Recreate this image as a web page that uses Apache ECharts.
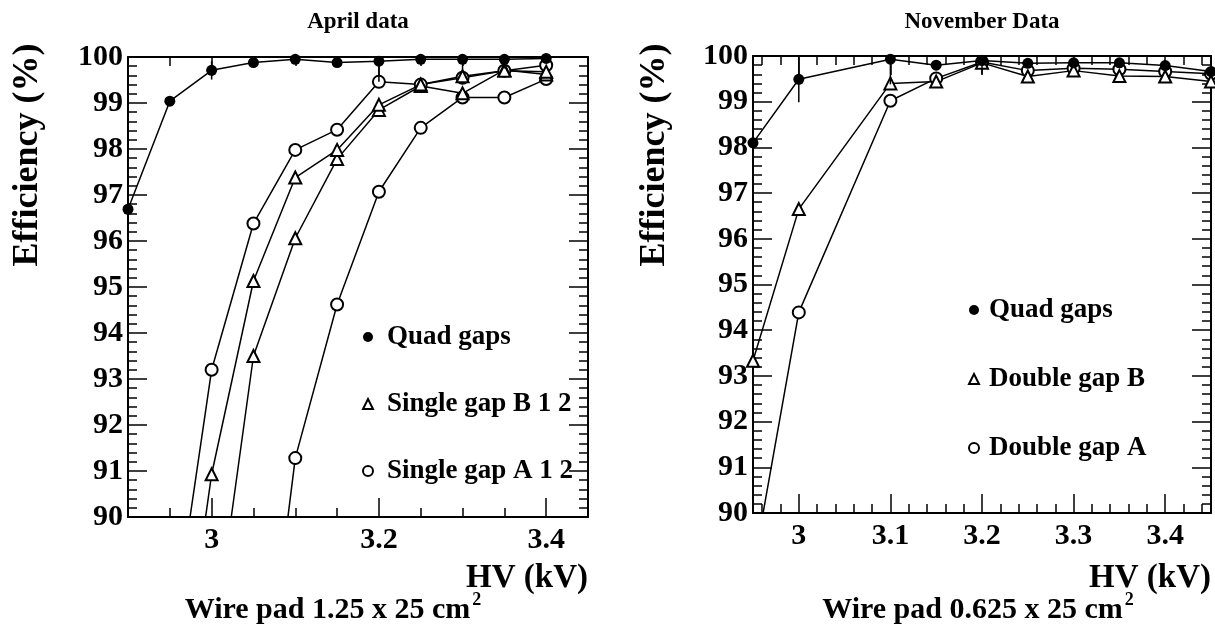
<!DOCTYPE html>
<html><head><meta charset="utf-8">
<script src="https://cdn.jsdelivr.net/npm/echarts@6/dist/echarts.min.js"></script>
<style>html,body{margin:0;padding:0;background:#fff}#c{width:1215px;height:633px}</style>
</head><body><div id="c"></div>
<script>
const FONT = '"Liberation Serif", "Times New Roman", serif';

// ---------- Left panel: April data ----------
const hvAprilQuad  = [2.9, 2.95, 3.0, 3.05, 3.1, 3.15, 3.2, 3.25, 3.3, 3.35, 3.4];
const effAprilQuad = [96.69, 99.04, 99.71, 99.88, 99.95, 99.88, 99.91, 99.95, 99.95, 99.95, 99.97];
const errAprilQuad = [0.05, 0.05, 0.2, 0.05, 0.08, 0.05, 0.45, 0.1, 0.25, 0.2, 0.05];
const hvAprilB1  = [2.95, 3.0, 3.05, 3.1, 3.15, 3.2, 3.25, 3.3, 3.35, 3.4];
const effAprilB1 = [84.5, 90.93, 95.13, 97.38, 97.98, 98.96, 99.40, 99.58, 99.70, 99.68];
const hvAprilB2  = [3.0, 3.05, 3.1, 3.15, 3.2, 3.25, 3.3, 3.35, 3.4];
const effAprilB2 = [86.9, 93.5, 96.06, 97.78, 98.85, 99.37, 99.21, 99.72, 99.62];
const hvAprilA1  = [2.95, 3.0, 3.05, 3.1, 3.15, 3.2, 3.25, 3.3, 3.35, 3.4];
const effAprilA1 = [87.0, 93.2, 96.38, 97.98, 98.42, 99.46, 99.40, 99.55, 99.70, 99.82];
const hvAprilA2  = [3.05, 3.1, 3.15, 3.2, 3.25, 3.3, 3.35, 3.4];
const effAprilA2 = [84.0, 91.28, 94.62, 97.07, 98.46, 99.12, 99.12, 99.52];

// ---------- Right panel: November Data ----------
const hvNov      = [2.95, 3.0, 3.1, 3.15, 3.2, 3.25, 3.3, 3.35, 3.4, 3.45];
const effNovQuad = [98.10, 99.49, 99.93, 99.80, 99.90, 99.84, 99.85, 99.85, 99.79, 99.66];
const errNovQuad = [0.05, 0.5, 0.55, 0.05, 0.3, 0.05, 0.05, 0.05, 0.05, 0.05];
const effNovB    = [93.33, 96.65, 99.40, 99.44, 99.85, 99.55, 99.68, 99.56, 99.55, 99.44];
const effNovA    = [88.76, 94.39, 99.02, 99.51, 99.87, 99.68, 99.73, 99.71, 99.66, 99.61];

// ---------- Axes / labels ----------
const yMin = 90, yMax = 100, yStep = 1;
const xMinL = 2.9, xMaxL = 3.45;
const xMajorL = [3, 3.2, 3.4];
const xMinorL = [2.95, 3.05, 3.1, 3.15, 3.25, 3.3, 3.35];
const xMinR = 2.95, xMaxR = 3.45;
const xMajorR = [3, 3.1, 3.2, 3.3, 3.4];
const xMinorR = [2.96, 2.98, 3.02, 3.04, 3.06, 3.08, 3.12, 3.14, 3.16, 3.18, 3.22, 3.24, 3.26, 3.28, 3.32, 3.34, 3.36, 3.38, 3.42, 3.44];
const titleL = 'April data', titleR = 'November Data';
const yTitle = 'Efficiency (%)', xTitle = 'HV (kV)';
const captionL = 'Wire pad 1.25 x 25 cm', captionR = 'Wire pad 0.625 x 25 cm';
const legendL = ['Quad gaps', 'Single gap B 1 2', 'Single gap A 1 2'];
const legendR = ['Quad gaps', 'Double gap B', 'Double gap A'];

const zip = (xs, ys) => xs.map((x, i) => [x, ys[i]]);
const zip3 = (xs, ys, es) => xs.map((x, i) => [x, ys[i], es[i]]);

const BLACK = '#000';
const tickFont = { fontFamily: FONT, fontWeight: 'bold', fontSize: 30, color: BLACK };

function xAxesFor(grid, min, max, major, minor) {
  const base = { type: 'value', gridIndex: grid, min: min, max: max, splitLine: { show: false } };
  return [
    Object.assign({}, base, {
      position: 'bottom',
      axisLine: { show: true, onZero: false, lineStyle: { color: BLACK, width: 2 } },
      axisTick: { show: true, inside: true, length: 19, customValues: major, lineStyle: { color: BLACK, width: 1.5 } },
      axisLabel: Object.assign({ show: true, customValues: major, margin: 8 }, tickFont)
    }),
    Object.assign({}, base, {
      position: 'bottom',
      axisLine: { show: false, onZero: false },
      axisTick: { show: true, inside: true, length: 9, customValues: minor, lineStyle: { color: BLACK, width: 1.5 } },
      axisLabel: { show: false }
    }),
    Object.assign({}, base, {
      position: 'top',
      axisLine: { show: true, onZero: false, lineStyle: { color: BLACK, width: 2 } },
      axisTick: { show: true, inside: true, length: 19, customValues: major, lineStyle: { color: BLACK, width: 1.5 } },
      axisLabel: { show: false }
    }),
    Object.assign({}, base, {
      position: 'top',
      axisLine: { show: false, onZero: false },
      axisTick: { show: true, inside: true, length: 9, customValues: minor, lineStyle: { color: BLACK, width: 1.5 } },
      axisLabel: { show: false }
    })
  ];
}
function yAxesFor(grid) {
  const base = {
    type: 'value', gridIndex: grid, min: yMin, max: yMax, interval: yStep,
    splitLine: { show: false },
    axisLine: { show: true, onZero: false, lineStyle: { color: BLACK, width: 2 } },
    axisTick: { show: true, inside: true, length: 19, lineStyle: { color: BLACK, width: 1.5 } },
    minorTick: { show: true, splitNumber: 5, length: 9, lineStyle: { color: BLACK, width: 1.5 } }
  };
  return [
    Object.assign({}, base, { position: 'left', axisLabel: Object.assign({ show: true, margin: 5 }, tickFont) }),
    Object.assign({}, base, { position: 'right', axisLabel: { show: false } })
  ];
}

function errRender(params, api) {
  const x = api.value(0), y = api.value(1), e = api.value(2);
  const p1 = api.coord([x, Math.min(y + e, yMax)]);
  const p2 = api.coord([x, Math.max(y - e, yMin)]);
  return { type: 'line', shape: { x1: p1[0], y1: p1[1], x2: p2[0], y2: p2[1] }, style: { stroke: BLACK, lineWidth: 1.5 } };
}

function lineSeries(name, data, xi, yi, symbol, size) {
  const empty = symbol.indexOf('empty') === 0;
  return {
    type: 'line', name: name, data: data, xAxisIndex: xi, yAxisIndex: yi,
    symbol: symbol, symbolSize: size, showAllSymbol: true, clip: true, animation: false,
    lineStyle: { color: BLACK, width: 1.5 },
    itemStyle: { color: BLACK, borderColor: BLACK, borderWidth: empty ? 1.6 : 0 },
    emphasis: { disabled: true }, z: 3
  };
}

const legendIcons = ['circle', 'emptyTriangle', 'emptyCircle'];
function legendFor(names, left, top, gap, pad) {
  return {
    orient: 'vertical', left: left, top: top, itemGap: gap, itemWidth: 10, itemHeight: 10,
    selectedMode: false,
    data: names.map((n, i) => ({ name: n, icon: legendIcons[i] })),
    textStyle: { fontFamily: FONT, fontWeight: 'bold', fontSize: 27, color: BLACK, lineHeight: 30, padding: [0, 0, 0, pad] }
  };
}

function txt(text, x, y, size, align, extra) {
  return Object.assign({
    type: 'text', x: x, y: y,
    style: { text: text, fontFamily: FONT, fontWeight: 'bold', fontSize: size, fill: BLACK, align: align, verticalAlign: 'middle' }
  }, extra || {});
}
function caption(text, x, y) {
  return {
    type: 'text', x: x, y: y,
    style: {
      text: '{a|' + text + '}{s|2}', align: 'center', verticalAlign: 'middle',
      rich: {
        a: { fontFamily: FONT, fontWeight: 'bold', fontSize: 30, fill: BLACK, lineHeight: 32 },
        s: { fontFamily: FONT, fontWeight: 'bold', fontSize: 18, fill: BLACK, padding: [0, 0, 20, 2] }
      }
    }
  };
}

const option = {
  backgroundColor: '#fff',
  animation: false,
  grid: [
    { left: 128, top: 57, width: 460, height: 460, containLabel: false },
    { left: 753, top: 56, width: 458, height: 457, containLabel: false }
  ],
  xAxis: xAxesFor(0, xMinL, xMaxL, xMajorL, xMinorL).concat(xAxesFor(1, xMinR, xMaxR, xMajorR, xMinorR)),
  yAxis: yAxesFor(0).concat(yAxesFor(1)),
  legend: [legendFor(legendL, 357, 317, 37, 9), legendFor(legendR, 963, 290, 39, 5)],
  series: [
    lineSeries(legendL[2], zip(hvAprilA2, effAprilA2), 0, 0, 'emptyCircle', 12),
    lineSeries(legendL[2], zip(hvAprilA1, effAprilA1), 0, 0, 'emptyCircle', 12),
    lineSeries(legendL[1], zip(hvAprilB2, effAprilB2), 0, 0, 'emptyTriangle', 12),
    lineSeries(legendL[1], zip(hvAprilB1, effAprilB1), 0, 0, 'emptyTriangle', 12),
    { type: 'custom', xAxisIndex: 0, yAxisIndex: 0, data: zip3(hvAprilQuad, effAprilQuad, errAprilQuad), renderItem: errRender, z: 4, silent: true },
    Object.assign(lineSeries(legendL[0], zip(hvAprilQuad, effAprilQuad), 0, 0, 'circle', 11), { z: 5 }),

    lineSeries(legendR[2], zip(hvNov, effNovA), 4, 2, 'emptyCircle', 12),
    lineSeries(legendR[1], zip(hvNov, effNovB), 4, 2, 'emptyTriangle', 12),
    { type: 'custom', xAxisIndex: 4, yAxisIndex: 2, data: zip3(hvNov, effNovQuad, errNovQuad), renderItem: errRender, z: 4, silent: true },
    Object.assign(lineSeries(legendR[0], zip(hvNov, effNovQuad), 4, 2, 'circle', 11), { z: 5 })
  ],
  graphic: [
    txt(titleL, 358, 22, 23, 'center'),
    txt(titleR, 982, 22, 23, 'center'),
    txt(yTitle, 28, 155, 36, 'center', { rotation: Math.PI / 2 }),
    txt(yTitle, 655, 155, 36, 'center', { rotation: Math.PI / 2 }),
    txt(xTitle, 588, 578, 33, 'right'),
    txt(xTitle, 1211, 578, 33, 'right'),
    caption(captionL, 333, 610),
    caption(captionR, 978, 610)
  ]
};

const chart = echarts.init(document.getElementById('c'), null, { renderer: 'canvas' });
chart.setOption(option);
</script>
</body></html>
